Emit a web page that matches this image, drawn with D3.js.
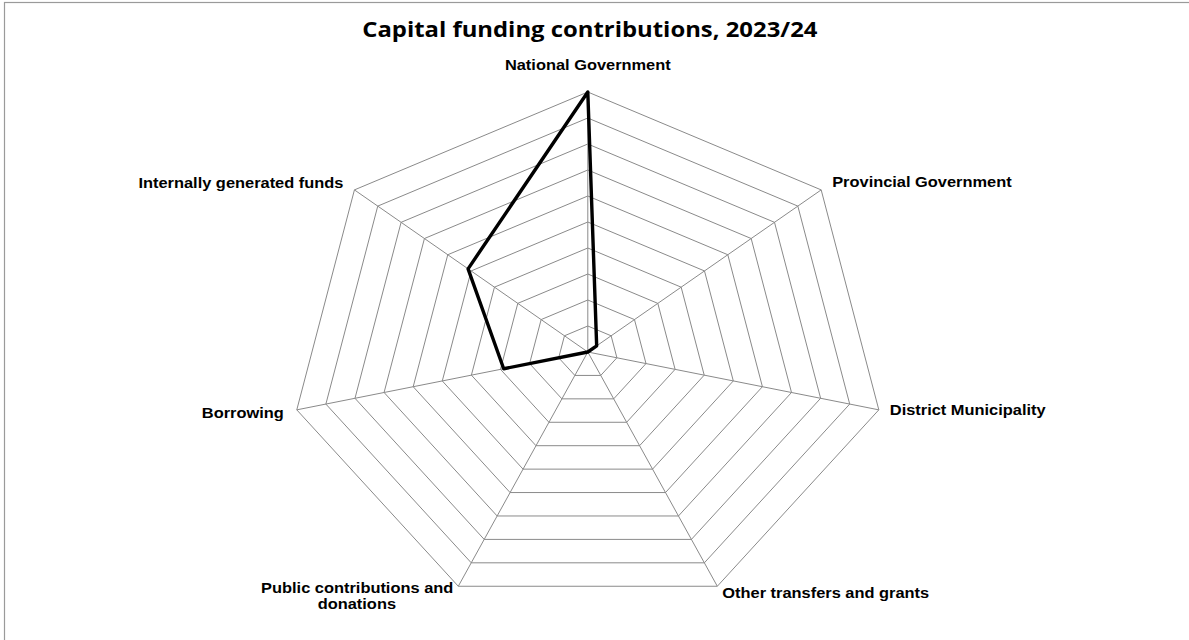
<!DOCTYPE html>
<html>
<head>
<meta charset="utf-8">
<script src="https://cdn.jsdelivr.net/npm/d3@7"></script>
<style>
  html, body { margin: 0; padding: 0; background: #fff; }
  svg { display: block; }
</style>
</head>
<body>
<svg id="chart" width="1189" height="640"></svg>
<script>
// Capital funding sources (relative amounts, outer ring = 100)
const categories = [
  "National Government",
  "Provincial Government",
  "District Municipality",
  "Other transfers and grants",
  "Public contributions and donations",
  "Borrowing",
  "Internally generated funds"
];
const values = [100, 3.8, 0, 0, 0, 28.9, 51.3];
const gridLevels = [10, 20, 30, 40, 50, 60, 70, 80, 90, 100];
const maxValue = 100;
const titleText = "Capital funding contributions, 2023/24";

const svg = d3.select("#chart");

// chart frame
svg.append("rect")
  .attr("x", 4.5).attr("y", 2.5)
  .attr("width", 1300).attr("height", 800)
  .attr("fill", "#fff")
  .attr("stroke", "#9a9a9a")
  .attr("stroke-width", 1.2);

// plot geometry: the radar is drawn slightly wider than tall
const cx = 587.8, cy = 352, rx = 298.5, ry = 260;
const sx = rx / ry; // horizontal stretch also applied to the text

const r = d3.scaleLinear().domain([0, maxValue]).range([0, 1]);
const angle = d3.scaleLinear().domain([0, categories.length]).range([0, 2 * Math.PI]);

function pt(i, v) {
  const a = angle(i);
  return [cx + r(v) * rx * Math.sin(a), cy - r(v) * ry * Math.cos(a)];
}

const grid = svg.append("g").attr("fill", "none").attr("stroke", "#8a8a8a").attr("stroke-width", 1);

// concentric heptagon rings
grid.selectAll("path.ring")
  .data(gridLevels)
  .join("path")
  .attr("class", "ring")
  .attr("d", lv => d3.line()(categories.map((c, i) => pt(i, lv))) + "Z");

// spokes
grid.selectAll("line.spoke")
  .data(categories)
  .join("line")
  .attr("class", "spoke")
  .attr("x1", cx).attr("y1", cy)
  .attr("x2", (c, i) => pt(i, maxValue)[0])
  .attr("y2", (c, i) => pt(i, maxValue)[1]);

// data series
svg.append("path")
  .datum(values)
  .attr("fill", "none")
  .attr("stroke", "#000")
  .attr("stroke-width", 3.4)
  .attr("stroke-linejoin", "round")
  .attr("d", d => d3.line()(d.map((v, i) => pt(i, v))) + "Z");

// title
svg.append("text")
  .attr("transform", `translate(${cx + 2},37) scale(${sx},1)`)
  .attr("text-anchor", "middle")
  .attr("font-family", "'Open Sans', sans-serif")
  .attr("font-weight", "bold")
  .attr("font-size", 20.8)
  .attr("fill", "#000")
  .text(titleText);

// category labels: [dx, dy from outer vertex, anchor]
const labelPlacement = [
  [0, -22, "middle"],
  [11, -3, "start"],
  [11, 5, "start"],
  [5, 12, "start"],
  [-5, 7, "end"],
  [-13, 8, "end"],
  [-11, -2, "end"]
];

const labels = svg.append("g")
  .attr("font-family", "'Liberation Sans', Arial, sans-serif")
  .attr("font-weight", "bold")
  .attr("font-size", 14.3)
  .attr("fill", "#000");

categories.forEach((c, i) => {
  const [vx, vy] = pt(i, maxValue);
  const [dx, dy, anchor] = labelPlacement[i];
  const t = labels.append("text")
    .attr("transform", `translate(${vx + dx},${vy + dy}) scale(${sx},1)`)
    .attr("text-anchor", anchor);
  if (c === "Public contributions and donations") {
    t.append("tspan").attr("x", 0).attr("y", 0).text("Public contributions and");
    t.append("tspan").attr("x", -84).attr("y", 16).attr("text-anchor", "middle").text("donations");
  } else {
    t.text(c);
  }
});
</script>
</body>
</html>
